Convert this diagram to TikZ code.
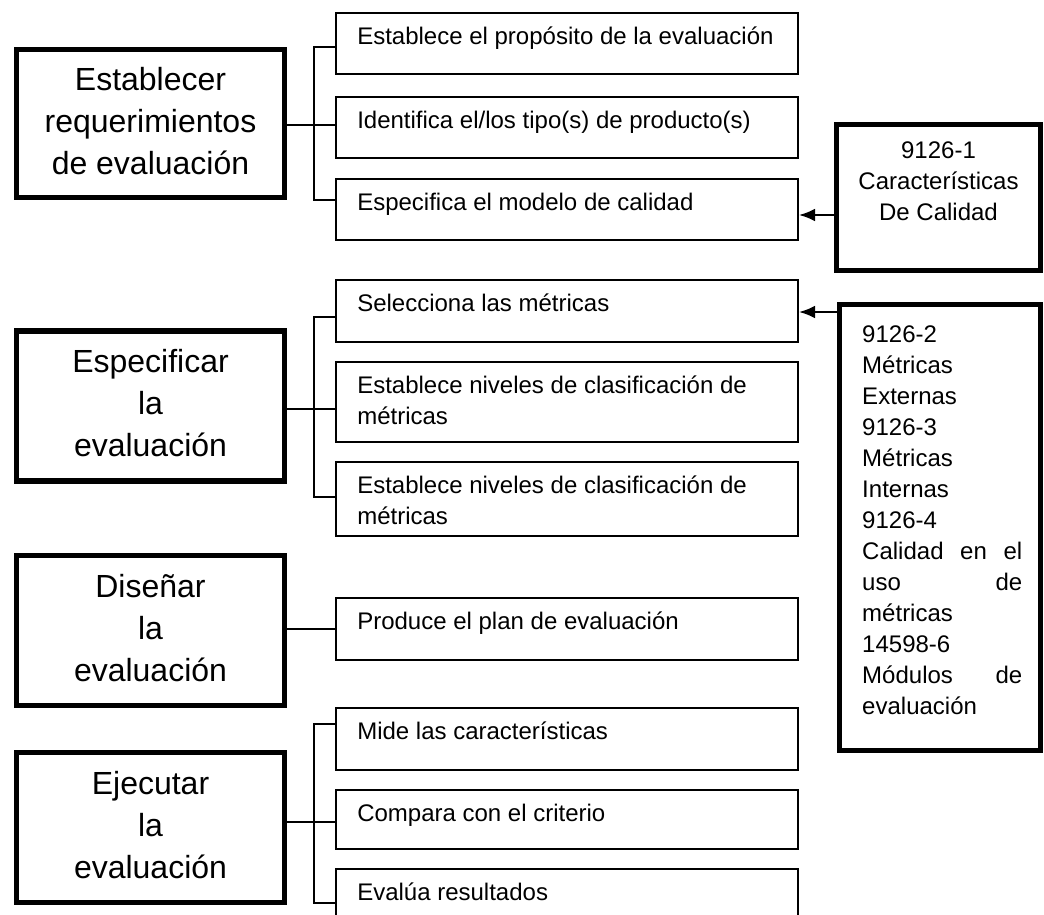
\documentclass[tikz,border=0pt]{standalone}
\usepackage{fontspec}
\setmainfont{Liberation Sans}
\usetikzlibrary{arrows.meta}
% strut that fixes the height of a first line
\newcommand{\fl}{\rule{0pt}{1em}}

\begin{document}
\begin{tikzpicture}[x=0.75pt,y=-0.75pt,
  stage/.style={draw, line width=3.8pt, minimum width=201pt, minimum height=112.5pt, inner sep=0pt},
  stagetxt/.style={anchor=north, inner sep=0pt, align=center, font=\fontsize{24pt}{31.5pt}\selectfont},
  task/.style={draw, line width=1.5pt, minimum width=346.5pt, inner sep=0pt},
  tasktxt/.style={anchor=north west, inner sep=0pt, align=left, font=\fontsize{18pt}{23.25pt}\selectfont},
  norm/.style={draw, line width=3.8pt, inner sep=0pt},
  normtxt/.style={inner sep=0pt, font=\fontsize{18pt}{23.25pt}\selectfont},
  link/.style={line width=1.5pt},
  feed/.style={line width=1.5pt, -{Latex[length=12pt,width=9.5pt]}},
]
\clip (0,0) rectangle (1044,914);

% stages of the evaluation process
\node[stage, minimum height=111pt] (b1) at (150.5,123.5) {};
\node[stage] (b2) at (150.5,406) {};
\node[stage] (b3) at (150.5,630.5) {};
\node[stage] (b4) at (150.5,827.5) {};
\node[stagetxt] (b1t) at ([shift={(0,-65.5)}]b1.center) {\fl Establecer\\requerimientos\\de evaluación};
\node[stagetxt] (b2t) at ([shift={(0,-65.5)}]b2.center) {\fl Especificar\\la\\evaluación};
\node[stagetxt] (b3t) at ([shift={(0,-65.5)}]b3.center) {\fl Diseñar\\la\\evaluación};
\node[stagetxt] (b4t) at ([shift={(0,-65.5)}]b4.center) {\fl Ejecutar\\la\\evaluación};

% activities
\node[task, minimum height=45.75pt] (s11) at (567,43.5) {};
\node[task, minimum height=45.75pt] (s12) at (567,127.5) {};
\node[task, minimum height=45.75pt] (s13) at (567,209.5) {};
\node[task, minimum height=46.5pt] (s21) at (567,311) {};
\node[task, minimum height=60pt] (s22) at (567,402) {};
\node[task, minimum height=55.5pt] (s23) at (567,499) {};
\node[task, minimum height=46.5pt] (s3) at (567,629) {};
\node[task, minimum height=46.5pt] (s41) at (567,739) {};
\node[task, minimum height=44.25pt] (s42) at (567,819.5) {};
\node[task, minimum height=60pt] (s43) at (567,909) {};

\node[tasktxt] (s11t) at ([shift={(22,8)}]s11.north west) {\fl Establece el propósito de la evaluación};
\node[tasktxt] (s12t) at ([shift={(22,8)}]s12.north west) {\fl Identifica el/los tipo(s) de producto(s)};
\node[tasktxt] (s13t) at ([shift={(22,8)}]s13.north west) {\fl Especifica el modelo de calidad};
\node[tasktxt] (s21t) at ([shift={(22,8)}]s21.north west) {\fl Selecciona las métricas};
\node[tasktxt] (s22t) at ([shift={(22,8)}]s22.north west) {\fl Establece niveles de clasificación de\\métricas};
\node[tasktxt] (s23t) at ([shift={(22,8)}]s23.north west) {\fl Establece niveles de clasificación de\\métricas};
\node[tasktxt] (s3t) at ([shift={(22,8)}]s3.north west) {\fl Produce el plan de evaluación};
\node[tasktxt] (s41t) at ([shift={(22,8)}]s41.north west) {\fl Mide las características};
\node[tasktxt] (s42t) at ([shift={(22,8)}]s42.north west) {\fl Compara con el criterio};
\node[tasktxt] (s43t) at ([shift={(22,8)}]s43.north west) {\fl Evalúa resultados};

% reference standards
\node[norm, minimum width=153pt, minimum height=109.5pt] (r1) at (938.5,197.5) {};
\node[normtxt, anchor=north, align=center] (r1t) at ([shift={(0,12)}]r1.north)
  {\fl 9126-1\\Características\\De Calidad};
\node[norm, minimum width=150.75pt, minimum height=334.5pt] (r2) at (940,527.5) {};
\node[normtxt, anchor=north west, text width=120pt, align=justify] (r2t) at ([shift={(25,16)}]r2.north west)
  {\hyphenpenalty=10000\exhyphenpenalty=10000\tolerance=10000\relax
   \fl 9126-2\\Métricas\\Externas\\9126-3\\Métricas\\Internas\\9126-4\\Calidad en el\linebreak uso de\linebreak métricas\\14598-6\\Módulos de\linebreak evaluación\par};

% brackets joining each stage to its activities
\coordinate (k1t) at (314,47);  \coordinate (k1b) at (314,200); \coordinate (m1) at (0,125);
\coordinate (k2t) at (314,317); \coordinate (k2b) at (314,497); \coordinate (m2) at (0,409);
\coordinate (m3) at (0,629);
\coordinate (k4t) at (314,724); \coordinate (k4b) at (314,903); \coordinate (m4) at (0,822);

\draw[link] (s11.west |- k1t) -- (k1t) -- (k1b) -- (s13.west |- k1b);
\draw[link] (b1.east |- m1) -- (s12.west |- m1);
\draw[link] (s21.west |- k2t) -- (k2t) -- (k2b) -- (s23.west |- k2b);
\draw[link] (b2.east |- m2) -- (s22.west |- m2);
\draw[link] (b3.east |- m3) -- (s3.west |- m3);
\draw[link] (s41.west |- k4t) -- (k4t) -- (k4b) -- (s43.west |- k4b);
\draw[link] (b4.east |- m4) -- (s42.west |- m4);

% standards feeding the activities
\coordinate (a1) at (0,215);
\coordinate (a2) at (0,312);
\draw[feed] (r1.west |- a1) -- (s13.east |- a1);
\draw[feed] (r2.west |- a2) -- (s21.east |- a2);
\end{tikzpicture}
\end{document}
